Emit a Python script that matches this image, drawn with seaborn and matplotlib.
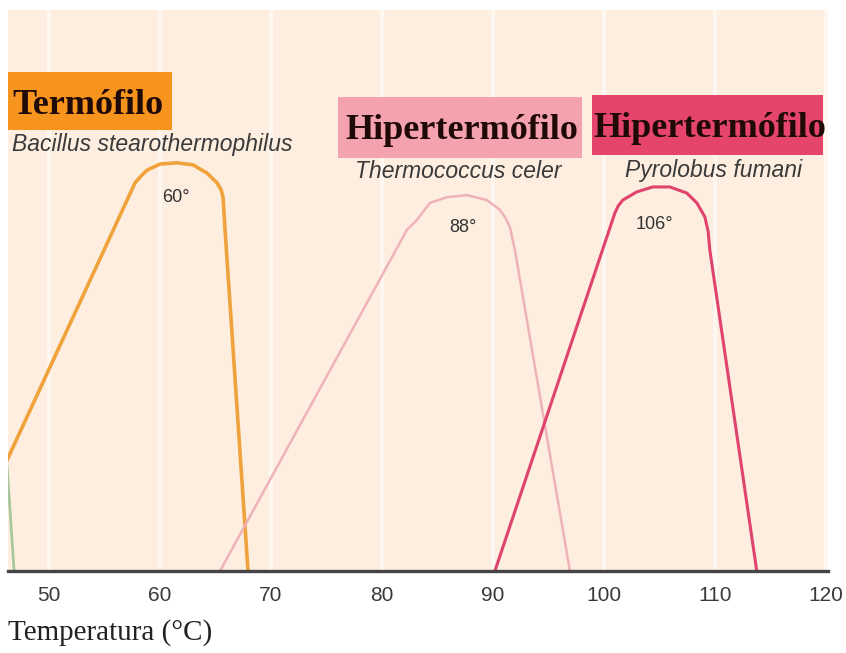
import matplotlib
matplotlib.use("Agg")
import matplotlib.pyplot as plt
from matplotlib.patches import Rectangle
import pandas as pd
import seaborn as sns

# Growth-rate profiles (relative rate vs temperature, °C)
termo_temp = [41.6, 57.75, 58.3, 58.83, 60.0, 61.53, 62.97, 64.23, 65.14, 65.5, 65.68, 65.86, 67.93]
termo_rate = [0.0, 0.949, 0.966, 0.980, 0.995, 0.998, 0.993, 0.973, 0.949, 0.932, 0.914, 0.834, 0.0]

thermococcus_temp = [65.41, 82.25, 83.15, 84.32, 85.86, 87.66, 89.46, 90.63, 91.1, 91.53, 91.98, 96.94]
thermococcus_rate = [0.0, 0.834, 0.858, 0.900, 0.914, 0.919, 0.907, 0.883, 0.865, 0.841, 0.785, 0.0]

pyrolobus_temp = [90.18, 100.99, 101.3, 101.71, 102.97, 104.41, 105.95, 107.48, 108.38, 109.10, 109.4, 109.55, 113.78]
pyrolobus_rate = [0.0, 0.875, 0.893, 0.907, 0.927, 0.939, 0.939, 0.924, 0.900, 0.866, 0.830, 0.785, 0.0]

meso_temp = [46.0, 46.85]
meso_rate = [0.343, 0.0]

groups = ["Termófilo", "Hipertermófilo", "Hipertermófilo"]
species = ["Bacillus stearothermophilus", "Thermococcus celer", "Pyrolobus fumani"]
optima = [60, 88, 106]
x_ticks = [50, 60, 70, 80, 90, 100, 110, 120]

W, H = 846, 653
fig = plt.figure(figsize=(W / 100, H / 100), dpi=100)
fig.patch.set_facecolor("white")

sns.set_style("white")
plt.rcParams["font.family"] = ["Liberation Sans", "DejaVu Sans"]

ax = fig.add_axes([8 / W, 82 / H, 820 / W, 561 / H])
ax.set_facecolor("#fdeee0")


def fx(px):
    return px / W


def fy(py):
    return 1 - py / H


frames = []
for name, t, r in [
    ("meso", meso_temp, meso_rate),
    (species[0], termo_temp, termo_rate),
    (species[1], thermococcus_temp, thermococcus_rate),
    (species[2], pyrolobus_temp, pyrolobus_rate),
]:
    frames.append(pd.DataFrame({"sp": name, "temp": t, "rate": r}))
df = pd.concat(frames, ignore_index=True)

styles = {
    "meso": ("#a9c79c", 2.0),
    species[0]: ("#f0a23c", 2.6),
    species[1]: ("#f0b2b9", 1.8),
    species[2]: ("#e0436c", 2.2),
}
for sp, (col, lw) in styles.items():
    sub = df[df["sp"] == sp]
    sns.lineplot(data=sub, x="temp", y="rate", color=col, linewidth=lw,
                 sort=False, estimator=None, ax=ax, legend=False,
                 solid_joinstyle="round", solid_capstyle="round")

ax.set_xlim(46.3, 120.2)
ax.set_ylim(0, 561 / 409)
ax.set_xticks(x_ticks)
ax.set_xticklabels([str(v) for v in x_ticks])
ax.set_yticks([])
ax.set_ylabel("")
ax.grid(axis="x", color="white", linewidth=3, alpha=0.55)
ax.set_axisbelow(True)
for s in ["top", "left", "right"]:
    ax.spines[s].set_visible(False)
ax.spines["bottom"].set_color("#454545")
ax.spines["bottom"].set_linewidth(2.4)
ax.tick_params(axis="x", length=0, pad=11, labelsize=15, labelcolor="#3a3a3a")

ax.set_xlabel("Temperatura (°C)", loc="left", fontsize=21,
              family=["Liberation Serif", "DejaVu Serif"], color="#222222",
              labelpad=10)

# Optimum temperature annotations
opt_pos = [(61.4, 0.914), (87.3, 0.841), (104.6, 0.846)]
for opt, (tx, ty) in zip(optima, opt_pos):
    ax.text(tx, ty, f"{opt}°", ha="center", va="center", fontsize=13,
            color="#333333")

# Group headers with coloured boxes
boxes = [
    ((8, 72, 172, 130), "#f7941d", 12, 114),
    ((338, 97, 582, 158), "#f4a3ae", 345, 139),
    ((592, 95, 823, 155), "#e5456b", 593, 137),
]
for i, ((x0, y0, x1, y1), col, tx, ty) in enumerate(boxes):
    fig.patches.append(Rectangle((fx(x0), fy(y1)), fx(x1) - fx(x0), fy(y0) - fy(y1),
                                 transform=fig.transFigure, facecolor=col,
                                 edgecolor="none", zorder=3))
    fig.text(fx(tx), fy(ty), groups[i], ha="left", va="baseline", fontsize=26,
             fontweight="bold", family=["Liberation Serif", "DejaVu Serif"],
             color="#200a08", zorder=4)

sp_pos = [(12, 145, "left"), (458, 172, "center"), (714, 170, "center")]
for name, (tx, ty, ha) in zip(species, sp_pos):
    fig.text(fx(tx), fy(ty), name, ha=ha, va="center", fontsize=16.5,
             style="italic", color="#3a3a3a", zorder=4)

fig.savefig("out.png", dpi=100, facecolor="white")
